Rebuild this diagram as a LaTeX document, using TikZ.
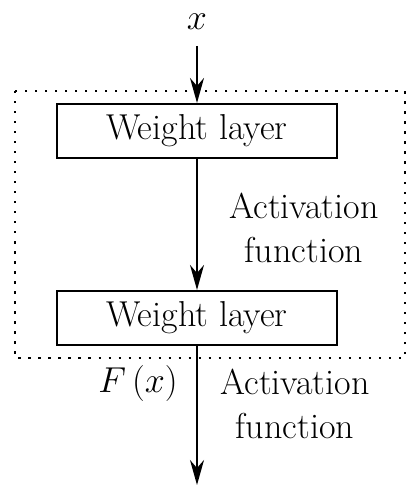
\RequirePackage{fix-cm}
\documentclass[tikz,border=0pt]{standalone}
\usepackage{fontspec}
\usetikzlibrary{positioning,arrows.meta}

\begin{document}
\begin{tikzpicture}[x=0.02cm,y=-0.02cm,
    txt/.style={font=\fontsize{20.5}{25.5}\selectfont},
    layer/.style={draw,line width=1.2pt,minimum width=5.6cm,minimum height=1.08cm,inner sep=0pt,txt},
    flow/.style={line width=1pt,-{Stealth[length=5mm,width=2.8mm,inset=1.6mm]}}]
        \useasboundingbox (0,0) rectangle (419,500);
        \draw[line width=1.3pt,dash pattern=on 1.3pt off 4.4pt] (15,91) rectangle (405,358);
        \node[txt] (in) at (197,22) {$x$};
        \node[layer] (wl1) at (197,131) {Weight layer};
        \node[layer] (wl2) at (197,318) {Weight layer};
        \coordinate (out) at (197,485);
        \node[txt,align=center] (act1) at (304,228) {Activation\\function};
        \node[txt,align=center] (act2) at (295,404) {Activation\\function};
        \node[txt] (fx) at (138,383) {$F\,(x)$};
        \draw[flow,shorten <=2mm] (in) -- (wl1);
        \draw[flow] (wl1) -- (wl2);
        \draw[flow] (wl2) -- (out);
    \end{tikzpicture}
\end{document}
